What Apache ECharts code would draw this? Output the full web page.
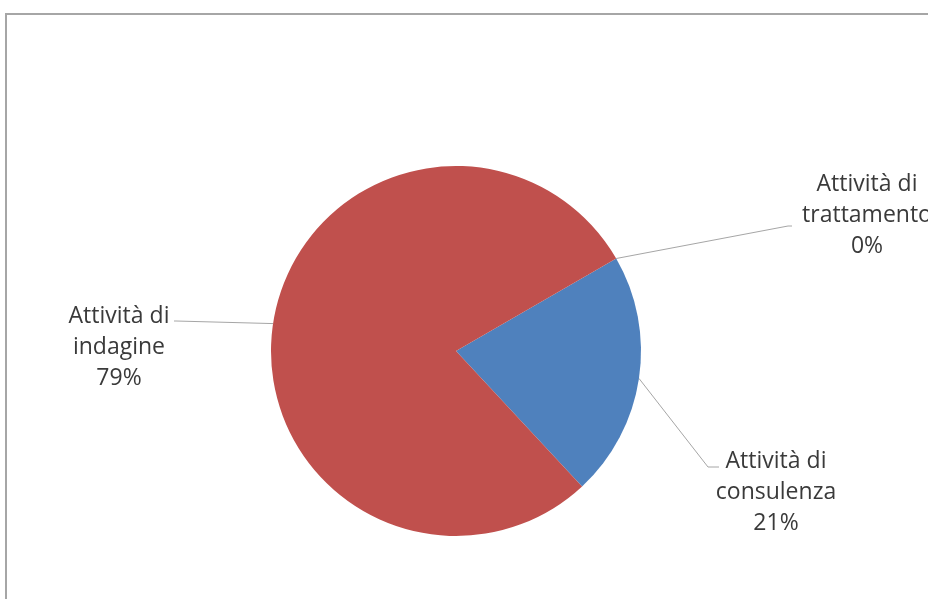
<!DOCTYPE html>
<html>
<head>
<meta charset="utf-8">
<script src="https://cdn.jsdelivr.net/npm/echarts@6/dist/echarts.min.js"></script>
<style>
html,body{margin:0;padding:0;background:#fff;}
#chart{width:928px;height:599px;}
</style>
</head>
<body>
<div id="chart"></div>
<script>
const categories = ['Attività di consulenza', 'Attività di indagine', 'Attività di trattamento'];
const labelNames = ['Attività di\nconsulenza', 'Attività di\nindagine', 'Attività di\ntrattamento'];
const values = [21.4, 78.6, 0];
const colors = ['#4F81BD', '#C0504D', '#9BBB59'];
// label block centres and leader-line end points (layout only)
const labelPos = [[776, 492], [119, 347], [867, 215]];
const leaderEnds = [[[708, 467], [719, 467]], [[176, 321], [174, 321]], [[788, 226], [792, 226]]];

const chart = echarts.init(document.getElementById('chart'), null, {renderer: 'canvas'});
const option = {
  animation: false,
  backgroundColor: '#ffffff',
  graphic: [{
    type: 'rect',
    shape: {x: 6, y: 14, width: 940, height: 610},
    style: {fill: 'none', stroke: '#a6a6a6', lineWidth: 2},
    z: 100
  }],
  series: [{
    type: 'pie',
    center: [456, 351],
    radius: 185,
    startAngle: 30,
    clockwise: true,
    minShowLabelAngle: -1,
    avoidLabelOverlap: false,
    data: categories.map((c, i) => ({name: labelNames[i], value: values[i], itemStyle: {color: colors[i]}})),
    itemStyle: {borderWidth: 0},
    label: {
      show: true,
      position: 'outside',
      formatter: p => p.name + '\n' + Math.round(p.percent) + '%',
      fontFamily: 'Open Sans',
      fontSize: 23,
      lineHeight: 31,
      color: '#3a3a3a',
      align: 'center'
    },
    labelLine: {
      show: true,
      length: 20,
      length2: 20,
      lineStyle: {color: '#a6a6a6', width: 1}
    },
    labelLayout: function (params) {
      const i = params.dataIndex;
      const p = labelPos[i];
      const res = {x: p[0], y: p[1], align: 'center', verticalAlign: 'middle'};
      if (params.labelLinePoints && params.labelLinePoints.length) {
        res.labelLinePoints = [params.labelLinePoints[0], leaderEnds[i][0], leaderEnds[i][1]];
      }
      return res;
    },
    emphasis: {disabled: true}
  }]
};
chart.setOption(option);
</script>
</body>
</html>
